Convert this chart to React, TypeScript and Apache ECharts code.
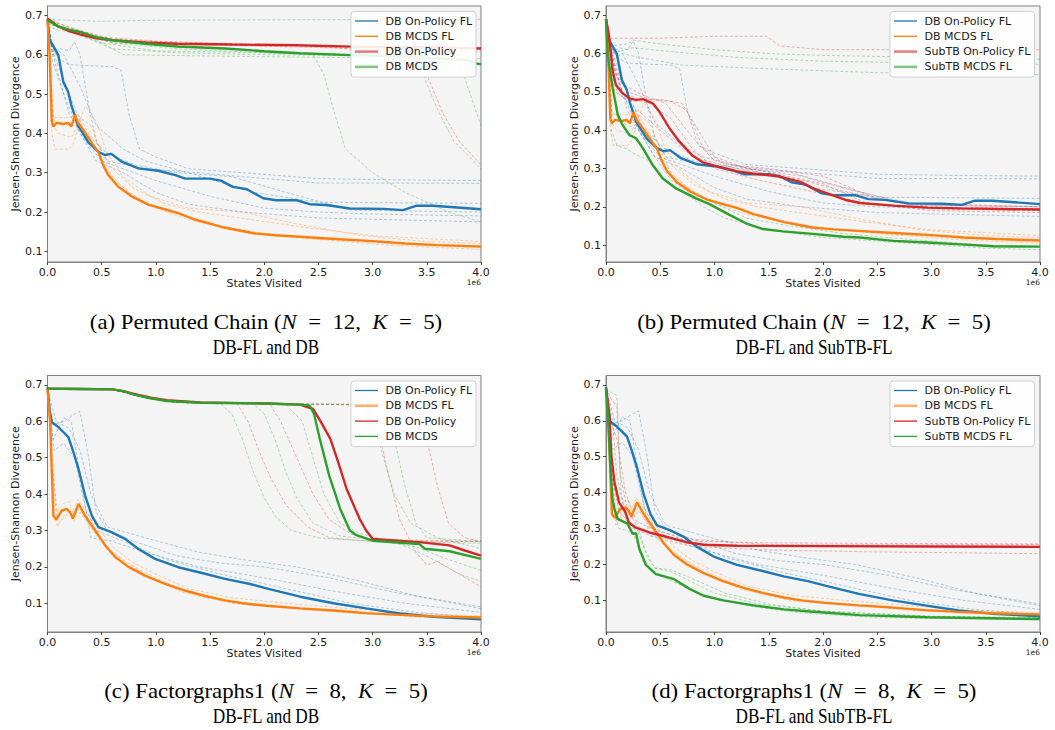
import React, { useEffect, useRef } from "react";
import * as echarts from "echarts";

// ---------- colours ----------
const BLUE = "#1f77b4";
const ORANGE = "#ff7f0e";
const GREEN = "#2ca02c";
const RED = "#d62728";

// ---------- ticks ----------
const X_TICKS = [0, 0.5, 1, 1.5, 2, 2.5, 3, 3.5, 4];
const Y_TICKS = [0.1, 0.2, 0.3, 0.4, 0.5, 0.6, 0.7];

// ---------- Permuted Chain (x in 1e6 states) ----------
const chainDbOnFlMean = [[0,0.69],[0.02,0.635],[0.04,0.629],[0.1,0.599],[0.146,0.531],[0.19,0.506],[0.22,0.472],[0.28,0.421],[0.376,0.378],[0.469,0.353],[0.53,0.345],[0.59,0.348],[0.685,0.328],[0.838,0.311],[1.02,0.305],[1.18,0.294],[1.27,0.285],[1.5,0.285],[1.6,0.28],[1.71,0.264],[1.84,0.258],[1.99,0.235],[2.11,0.23],[2.3,0.23],[2.42,0.22],[2.57,0.218],[2.79,0.209],[3.1,0.208],[3.28,0.205],[3.4,0.216],[3.56,0.216],[4.0,0.207]];
const chainDbMcdsFlMean = [[0,0.69],[0.02,0.6],[0.04,0.43],[0.054,0.418],[0.085,0.427],[0.146,0.424],[0.19,0.427],[0.22,0.418],[0.254,0.447],[0.28,0.428],[0.346,0.402],[0.408,0.376],[0.469,0.353],[0.515,0.319],[0.56,0.294],[0.65,0.265],[0.777,0.24],[0.93,0.219],[1.146,0.202],[1.2,0.198],[1.36,0.181],[1.64,0.16],[1.9,0.146],[2.1,0.141],[2.4,0.136],[2.7,0.131],[3.0,0.126],[3.3,0.12],[3.6,0.116],[4.0,0.112]];
const chainDbOnMean = [[0,0.692],[0.1,0.672],[0.2,0.66],[0.3,0.652],[0.45,0.642],[0.6,0.637],[0.9,0.631],[1.2,0.628],[1.7,0.626],[2.3,0.624],[2.9,0.62],[3.5,0.619],[4.0,0.616]];
const chainDbMcdsMean = [[0,0.688],[0.1,0.672],[0.2,0.664],[0.3,0.658],[0.45,0.645],[0.6,0.637],[0.9,0.628],[1.2,0.621],[1.64,0.616],[2.0,0.609],[2.33,0.604],[2.79,0.599],[3.2,0.596],[3.56,0.592],[3.9,0.585],[3.95,0.578],[4.0,0.576]];
const chainSubOnFlMean = [[0,0.69],[0.02,0.66],[0.03,0.64],[0.062,0.553],[0.092,0.518],[0.154,0.496],[0.216,0.483],[0.277,0.479],[0.339,0.481],[0.431,0.47],[0.493,0.448],[0.585,0.405],[0.677,0.37],[0.8,0.333],[0.892,0.316],[1.015,0.306],[1.2,0.293],[1.35,0.287],[1.6,0.279],[1.79,0.265],[1.91,0.248],[2.04,0.235],[2.22,0.217],[2.34,0.21],[2.65,0.203],[2.96,0.198],[3.27,0.196],[4.0,0.193]];
const chainSubMcdsFlMean = [[0,0.69],[0.015,0.6],[0.03,0.57],[0.062,0.509],[0.108,0.44],[0.154,0.413],[0.216,0.387],[0.277,0.379],[0.339,0.353],[0.431,0.309],[0.523,0.274],[0.646,0.248],[0.83,0.222],[0.954,0.207],[1.138,0.179],[1.29,0.157],[1.446,0.142],[1.63,0.136],[1.88,0.13],[2.19,0.122],[2.34,0.12],[2.65,0.111],[2.96,0.107],[3.27,0.102],[3.57,0.097],[4.0,0.096]];

const chainDbOnFlSeeds = [
  [[0,0.69],[0.04,0.62],[0.1,0.59],[0.2,0.575],[0.4,0.572],[0.6,0.57],[0.68,0.56],[0.75,0.45],[0.85,0.36],[1.0,0.34],[1.3,0.31],[1.8,0.3],[2.5,0.285],[3.2,0.282],[4.0,0.28]],
  [[0,0.69],[0.05,0.6],[0.12,0.615],[0.2,0.61],[0.25,0.633],[0.3,0.6],[0.38,0.47],[0.45,0.38],[0.55,0.33],[0.9,0.31],[1.4,0.3],[1.8,0.29],[2.5,0.274],[4.0,0.273]],
  [[0,0.69],[0.05,0.6],[0.1,0.55],[0.2,0.45],[0.35,0.38],[0.5,0.33],[0.8,0.3],[1.0,0.28],[1.5,0.24],[2.0,0.21],[2.5,0.2],[3.0,0.195],[4.0,0.19]],
  [[0,0.69],[0.05,0.62],[0.15,0.6],[0.3,0.52],[0.45,0.42],[0.7,0.36],[0.9,0.33],[1.3,0.3],[1.9,0.25],[2.5,0.225],[4.0,0.222]],
  [[0,0.69],[0.05,0.58],[0.15,0.5],[0.3,0.4],[0.45,0.33],[0.7,0.3],[1.0,0.25],[1.3,0.22],[1.8,0.2],[2.5,0.185],[4.0,0.175]],
  [[0,0.69],[0.06,0.6],[0.2,0.5],[0.35,0.4],[0.55,0.35],[0.8,0.32],[1.2,0.3],[1.7,0.29],[2.2,0.25],[2.8,0.205],[4.0,0.2]],
];
const chainDbMcdsFlSeeds = [
  [[0,0.69],[0.04,0.4],[0.07,0.36],[0.2,0.36],[0.25,0.38],[0.3,0.44],[0.4,0.42],[0.5,0.35],[0.6,0.29],[0.75,0.25],[1.0,0.21],[1.3,0.18],[1.8,0.15],[2.5,0.13],[3.2,0.115],[4.0,0.105]],
  [[0,0.69],[0.05,0.42],[0.1,0.4],[0.22,0.39],[0.28,0.42],[0.35,0.47],[0.45,0.43],[0.55,0.35],[0.7,0.29],[0.95,0.24],[1.3,0.21],[1.8,0.2],[2.3,0.17],[2.9,0.14],[3.5,0.125],[4.0,0.12]],
  [[0,0.69],[0.05,0.44],[0.2,0.44],[0.28,0.45],[0.38,0.4],[0.5,0.33],[0.62,0.28],[0.85,0.23],[1.15,0.2],[1.5,0.17],[2.0,0.145],[2.6,0.13],[3.2,0.12],[4.0,0.115]],
  [[0,0.69],[0.06,0.43],[0.2,0.42],[0.3,0.42],[0.45,0.38],[0.6,0.31],[0.8,0.26],[1.1,0.22],[1.4,0.2],[1.9,0.18],[2.4,0.16],[3.0,0.14],[4.0,0.125]],
];
const chainDbOnSeeds = [
  [[0,0.69],[0.2,0.67],[0.5,0.645],[1.0,0.635],[2.0,0.625],[3.0,0.62],[4.0,0.618]],
  [[0,0.69],[0.25,0.665],[0.6,0.64],[1.2,0.63],[2.5,0.622],[3.35,0.6],[3.5,0.55],[3.65,0.45],[3.8,0.38],[4.0,0.32]],
  [[0,0.68],[0.2,0.66],[0.6,0.63],[1.5,0.625],[3.0,0.615],[4.0,0.61]],
];
const chainDbMcdsSeeds = [
  [[0,0.69],[0.5,0.685],[1.0,0.688],[4.0,0.69]],
  [[0,0.68],[0.3,0.655],[0.6,0.63],[1.2,0.615],[2.0,0.605],[2.45,0.6],[2.55,0.55],[2.65,0.45],[2.75,0.36],[3.0,0.3],[3.3,0.25],[3.7,0.2],[4.0,0.175]],
  [[0,0.68],[0.3,0.65],[0.6,0.615],[1.2,0.605],[2.0,0.6],[3.0,0.598],[3.3,0.597],[3.45,0.56],[3.6,0.46],[3.75,0.38],[4.0,0.31]],
  [[0,0.685],[0.2,0.66],[0.5,0.63],[1.0,0.61],[2.0,0.605],[3.0,0.6],[3.75,0.6],[3.85,0.54],[4.0,0.42]],
  [[0,0.67],[0.4,0.645],[0.7,0.6],[2.0,0.595],[4.0,0.59]],
];
const chainSubOnFlSeeds = [
  [[0,0.69],[0.03,0.64],[0.5,0.64],[1.0,0.645],[1.48,0.645],[1.6,0.62],[2.0,0.61],[4.0,0.61]],
  [[0,0.69],[0.08,0.55],[0.2,0.5],[0.4,0.48],[0.6,0.475],[0.75,0.45],[0.9,0.35],[1.1,0.31],[1.5,0.3],[2.0,0.28],[2.5,0.22],[3.0,0.2],[4.0,0.195]],
  [[0,0.69],[0.1,0.5],[0.3,0.45],[0.5,0.4],[0.8,0.33],[1.2,0.3],[1.8,0.27],[2.2,0.24],[2.8,0.205],[4.0,0.2]],
  [[0,0.69],[0.05,0.6],[0.15,0.52],[0.35,0.49],[0.55,0.47],[0.8,0.38],[1.0,0.32],[1.5,0.29],[2.0,0.26],[2.4,0.21],[3.0,0.19],[4.0,0.185]],
  [[0,0.69],[0.06,0.58],[0.15,0.5],[0.3,0.48],[0.5,0.48],[0.7,0.47],[0.85,0.4],[1.0,0.33],[1.3,0.3],[1.8,0.28],[2.3,0.24],[2.8,0.21],[4.0,0.2]],
  [[0,0.69],[0.08,0.5],[0.2,0.48],[0.4,0.47],[0.6,0.43],[0.8,0.35],[1.0,0.3],[1.4,0.27],[1.9,0.24],[2.4,0.21],[3.0,0.195],[4.0,0.19]],
];
const chainSubMcdsFlSeeds = [
  [[0,0.69],[0.05,0.62],[0.2,0.625],[0.25,0.635],[0.5,0.625],[1.0,0.61],[1.5,0.6],[2.0,0.595],[3.0,0.59],[4.0,0.585]],
  [[0,0.69],[0.05,0.6],[0.25,0.615],[0.6,0.605],[1.2,0.59],[2.0,0.58],[3.0,0.575],[4.0,0.572]],
  [[0,0.69],[0.05,0.58],[0.15,0.6],[0.3,0.59],[0.7,0.57],[1.5,0.56],[2.5,0.55],[4.0,0.545]],
  [[0,0.69],[0.05,0.4],[0.1,0.36],[0.2,0.35],[0.25,0.34],[0.4,0.32],[0.5,0.28],[0.7,0.24],[0.9,0.2],[1.1,0.17],[1.5,0.14],[2.0,0.12],[2.8,0.105],[3.5,0.092],[4.0,0.088]],
  [[0,0.69],[0.05,0.45],[0.15,0.42],[0.3,0.4],[0.45,0.33],[0.6,0.27],[0.8,0.23],[1.0,0.21],[1.3,0.17],[1.7,0.15],[2.2,0.13],[2.8,0.115],[3.5,0.1],[4.0,0.097]],
];

// ---------- Factorgraphs1 ----------
const fgDbOnFlMean = [[0,0.694],[0.02,0.63],[0.04,0.598],[0.1,0.584],[0.148,0.57],[0.194,0.556],[0.24,0.515],[0.286,0.469],[0.347,0.396],[0.409,0.341],[0.47,0.309],[0.594,0.295],[0.716,0.277],[0.839,0.249],[0.993,0.222],[1.207,0.199],[1.453,0.181],[1.638,0.167],[1.87,0.153],[2.02,0.141],[2.33,0.118],[2.64,0.1],[2.94,0.086],[3.25,0.072],[3.56,0.063],[4.0,0.056]];
const fgDbMcdsFlMean = [[0,0.69],[0.025,0.598],[0.04,0.46],[0.055,0.34],[0.08,0.33],[0.133,0.355],[0.179,0.359],[0.209,0.35],[0.234,0.333],[0.286,0.373],[0.347,0.341],[0.44,0.3],[0.532,0.259],[0.624,0.227],[0.747,0.2],[0.9,0.176],[1.085,0.153],[1.269,0.135],[1.453,0.12],[1.638,0.108],[1.8,0.1],[2.02,0.093],[2.33,0.086],[2.64,0.08],[2.94,0.073],[3.25,0.068],[3.56,0.064],[4.0,0.061]];
const fgDbOnMean = [[0,0.69],[0.3,0.689],[0.6,0.688],[0.7,0.683],[0.79,0.676],[0.95,0.665],[1.1,0.658],[1.41,0.652],[2.02,0.649],[2.33,0.646],[2.39,0.64],[2.45,0.634],[2.52,0.6],[2.61,0.552],[2.68,0.49],[2.76,0.414],[2.88,0.332],[2.94,0.3],[3.0,0.277],[3.43,0.268],[3.71,0.259],[3.85,0.245],[4.0,0.231]];
const fgDbMcdsMean = [[0,0.69],[0.3,0.689],[0.6,0.688],[0.7,0.683],[0.79,0.674],[0.95,0.663],[1.1,0.656],[1.41,0.651],[2.02,0.649],[2.33,0.646],[2.42,0.643],[2.46,0.62],[2.51,0.555],[2.6,0.45],[2.7,0.36],[2.79,0.3],[2.85,0.287],[3.0,0.272],[3.43,0.263],[3.48,0.25],[3.71,0.243],[4.0,0.222]];
const fgSubOnFlMean = [[0,0.69],[0.03,0.62],[0.05,0.5],[0.078,0.429],[0.12,0.373],[0.18,0.345],[0.21,0.317],[0.27,0.303],[0.4,0.289],[0.52,0.28],[0.74,0.262],[0.9,0.255],[1.2,0.252],[2.0,0.251],[3.0,0.25],[4.0,0.249]];
const fgSubMcdsFlMean = [[0,0.69],[0.02,0.6],[0.04,0.47],[0.06,0.38],[0.078,0.355],[0.108,0.327],[0.2,0.313],[0.246,0.285],[0.277,0.287],[0.308,0.243],[0.37,0.198],[0.46,0.173],[0.62,0.16],[0.77,0.132],[0.9,0.113],[1.08,0.1],[1.36,0.086],[1.64,0.075],[1.88,0.069],[2.34,0.059],[2.96,0.053],[4.0,0.048]];

const fgDbOnFlSeeds = [
  [[0,0.69],[0.05,0.59],[0.15,0.6],[0.25,0.62],[0.3,0.627],[0.38,0.5],[0.45,0.35],[0.55,0.3],[0.8,0.27],[1.2,0.23],[1.6,0.21],[2.0,0.2],[2.6,0.17],[3.2,0.13],[4.0,0.09]],
  [[0,0.69],[0.05,0.55],[0.15,0.61],[0.22,0.6],[0.33,0.4],[0.4,0.28],[0.6,0.27],[0.9,0.24],[1.4,0.2],[2.0,0.17],[2.7,0.13],[3.3,0.1],[4.0,0.075]],
  [[0,0.69],[0.06,0.52],[0.15,0.54],[0.25,0.5],[0.35,0.36],[0.45,0.3],[0.7,0.27],[1.1,0.22],[1.6,0.18],[2.2,0.14],[2.8,0.1],[3.4,0.075],[4.0,0.06]],
  [[0,0.69],[0.08,0.6],[0.2,0.58],[0.3,0.52],[0.4,0.4],[0.55,0.31],[0.9,0.28],[1.4,0.24],[1.8,0.22],[2.3,0.2],[2.9,0.16],[3.4,0.12],[4.0,0.085]],
];
const fgDbMcdsFlSeeds = [
  [[0,0.69],[0.04,0.5],[0.09,0.31],[0.15,0.34],[0.21,0.355],[0.24,0.33],[0.28,0.36],[0.35,0.33],[0.45,0.29],[0.6,0.24],[0.8,0.2],[1.0,0.17],[1.3,0.13],[1.7,0.105],[2.2,0.09],[2.8,0.075],[3.4,0.063],[4.0,0.058]],
  [[0,0.69],[0.04,0.5],[0.08,0.35],[0.15,0.375],[0.2,0.38],[0.23,0.35],[0.28,0.385],[0.36,0.35],[0.48,0.3],[0.62,0.25],[0.8,0.21],[1.0,0.18],[1.3,0.14],[1.7,0.115],[2.2,0.1],[2.8,0.085],[3.4,0.072],[4.0,0.065]],
  [[0,0.69],[0.04,0.5],[0.1,0.32],[0.2,0.35],[0.24,0.325],[0.3,0.35],[0.42,0.3],[0.56,0.25],[0.73,0.21],[0.95,0.17],[1.25,0.13],[1.7,0.1],[2.3,0.085],[3.0,0.07],[4.0,0.062]],
];
const fgDbOnSeeds = [
  [[0,0.69],[0.6,0.688],[0.9,0.665],[1.2,0.652],[1.75,0.648],[1.85,0.6],[1.95,0.52],[2.05,0.45],[2.2,0.37],[2.4,0.31],[2.6,0.28],[3.0,0.27],[4.0,0.27]],
  [[0,0.69],[0.6,0.688],[0.9,0.665],[1.2,0.652],[2.05,0.648],[2.15,0.6],[2.3,0.5],[2.45,0.4],[2.6,0.33],[2.8,0.29],[3.0,0.275],[4.0,0.27]],
  [[0,0.69],[0.6,0.688],[0.9,0.665],[1.2,0.652],[2.95,0.645],[3.05,0.58],[3.15,0.45],[3.25,0.33],[3.4,0.24],[3.5,0.205],[3.6,0.215],[3.8,0.18],[4.0,0.145]],
  [[0,0.69],[0.6,0.688],[0.9,0.665],[1.2,0.652],[3.4,0.645],[3.5,0.55],[3.6,0.42],[3.7,0.32],[3.85,0.28],[4.0,0.27]],
];
const fgDbMcdsSeeds = [
  [[0,0.69],[0.6,0.688],[0.9,0.665],[1.2,0.652],[1.6,0.648],[1.7,0.62],[1.8,0.55],[1.9,0.46],[2.0,0.39],[2.1,0.34],[2.25,0.3],[2.5,0.28],[3.0,0.27],[4.0,0.265]],
  [[0,0.69],[0.6,0.688],[0.9,0.665],[1.2,0.652],[1.9,0.648],[2.0,0.62],[2.1,0.55],[2.2,0.46],[2.3,0.39],[2.45,0.32],[2.7,0.285],[3.0,0.275],[3.4,0.255],[3.7,0.22],[4.0,0.19]],
  [[0,0.69],[0.6,0.688],[0.9,0.665],[1.2,0.652],[2.2,0.646],[2.35,0.6],[2.45,0.5],[2.55,0.4],[2.7,0.32],[2.9,0.29],[3.2,0.27],[3.5,0.23],[3.8,0.18],[4.0,0.16]],
  [[0,0.69],[0.6,0.688],[0.9,0.665],[1.2,0.652],[2.9,0.645],[3.0,0.6],[3.1,0.5],[3.2,0.4],[3.35,0.32],[3.6,0.28],[4.0,0.25]],
  [[0,0.69],[0.6,0.688],[0.9,0.665],[1.2,0.652],[3.1,0.645],[3.2,0.55],[3.3,0.42],[3.4,0.32],[3.5,0.28],[4.0,0.27]],
];
const fgSubOnFlSeeds = [
  [[0,0.69],[0.05,0.66],[0.1,0.64],[0.13,0.45],[0.2,0.35],[0.3,0.3],[0.5,0.28],[0.8,0.265],[1.5,0.26],[4.0,0.257]],
  [[0,0.69],[0.05,0.45],[0.12,0.35],[0.25,0.3],[0.5,0.27],[0.8,0.25],[1.5,0.24],[2.5,0.235],[4.0,0.23]],
  [[0,0.69],[0.04,0.6],[0.1,0.55],[0.18,0.4],[0.28,0.32],[0.5,0.29],[0.8,0.27],[1.5,0.255],[4.0,0.255]],
];
const fgSubMcdsFlSeeds = [
  [[0,0.69],[0.04,0.68],[0.1,0.67],[0.14,0.4],[0.2,0.32],[0.3,0.3],[0.38,0.22],[0.45,0.19],[0.6,0.185],[0.8,0.16],[1.1,0.12],[1.5,0.09],[2.0,0.07],[3.0,0.055],[4.0,0.05]],
  [[0,0.69],[0.06,0.36],[0.12,0.3],[0.25,0.29],[0.35,0.2],[0.5,0.17],[0.7,0.14],[0.95,0.11],[1.3,0.085],[1.8,0.065],[2.5,0.052],[4.0,0.046]],
  [[0,0.69],[0.06,0.6],[0.1,0.45],[0.18,0.33],[0.28,0.3],[0.36,0.24],[0.45,0.19],[0.6,0.18],[0.8,0.15],[1.0,0.12],[1.4,0.09],[2.0,0.07],[3.0,0.056],[4.0,0.052]],
];

// ---------- texts ----------
const CAPTIONS = [
  ["(a) Permuted Chain ({i|N}\u2002=\u200212,\u2002{i|K}\u2002=\u20025)", "DB-FL and DB"],
  ["(b) Permuted Chain ({i|N}\u2002=\u200212,\u2002{i|K}\u2002=\u20025)", "DB-FL and SubTB-FL"],
  ["(c) Factorgraphs1 ({i|N}\u2002=\u20028,\u2002{i|K}\u2002=\u20025)", "DB-FL and DB"],
  ["(d) Factorgraphs1 ({i|N}\u2002=\u20028,\u2002{i|K}\u2002=\u20025)", "DB-FL and SubTB-FL"],
];
const LEGEND_DB = ["DB On-Policy FL", "DB MCDS FL", "DB On-Policy", "DB MCDS"];
const LEGEND_SUB = ["DB On-Policy FL", "DB MCDS FL", "SubTB On-Policy FL", "SubTB MCDS FL"];

// ---------- layout ----------
const PANELS = [
  { left: 47.5, top: 6, width: 433.5, height: 256, ymin: 0.073, ymax: 0.724 },
  { left: 606, top: 6, width: 434, height: 256, ymin: 0.056, ymax: 0.724 },
  { left: 47.5, top: 375.5, width: 433.5, height: 256.5, ymin: 0.021, ymax: 0.726 },
  { left: 606, top: 375.5, width: 434, height: 256.5, ymin: 0.012, ymax: 0.726 },
];
const FONT = "DejaVu Sans";
const TXT = "#1a1a1a";
const FS = 11;

function meanLine(data: number[][], color: string, gi: number) {
  return {
    type: "line", data, xAxisIndex: gi, yAxisIndex: gi, symbol: "none", silent: true, z: 3,
    lineStyle: { color, width: 2.4 },
  };
}
function seedLines(seeds: number[][][], color: string, gi: number) {
  return seeds.map((d) => ({
    type: "line", data: d, xAxisIndex: gi, yAxisIndex: gi, symbol: "none", silent: true, z: 2,
    lineStyle: { color, width: 0.9, type: [3, 2], opacity: 0.4 },
  }));
}

function legendItems(x: number, y: number, w: number, labels: string[], thick: boolean[]) {
  const colors = [BLUE, ORANGE, RED, GREEN];
  const out: any[] = [
    { type: "rect", z: 100, shape: { x, y, width: w, height: 65.5, r: 3 }, style: { fill: "rgba(255,255,255,0.9)", stroke: "#d0d0d0", lineWidth: 1 } },
  ];
  labels.forEach((lab, i) => {
    const cy = y + 9.5 + i * 15.3;
    out.push({
      type: "line", z: 101, shape: { x1: x + 4, y1: cy, x2: x + 27, y2: cy },
      style: { stroke: colors[i], lineWidth: thick[i] ? 2.6 : 1.3, opacity: thick[i] ? 0.6 : 1 },
    });
    out.push({
      type: "text", z: 101, x: x + 34.5, y: cy,
      style: { text: lab, fontSize: FS, fontFamily: FONT, fill: TXT, verticalAlign: "middle", align: "left" },
    });
  });
  return out;
}

export default function App() {
  const ref = useRef<HTMLDivElement>(null);
  useEffect(() => {
    document.body.style.margin = "0";
    const chart = echarts.init(ref.current!, null, { renderer: "svg" });

    const grid = PANELS.map((p) => ({
      left: p.left, top: p.top, width: p.width, height: p.height,
      show: true, backgroundColor: "#f4f4f4", borderColor: "#808080", borderWidth: 1,
    }));
    const xAxis = PANELS.map((p, i) => ({
      type: "value", gridIndex: i, min: 0, max: 4, interval: 0.5,
      name: "States Visited", nameLocation: "middle", nameGap: 14.5,
      nameTextStyle: { fontSize: FS, fontFamily: FONT, color: TXT },
      splitLine: { show: false },
      axisLine: { show: true, lineStyle: { color: "#808080" } },
      axisTick: { show: true, length: 3, lineStyle: { color: "#444" }, customValues: X_TICKS },
      axisLabel: { fontSize: FS, fontFamily: FONT, color: TXT, margin: 4.5, formatter: (v: number) => v.toFixed(1), customValues: X_TICKS },
    }));
    const yAxis = PANELS.map((p, i) => ({
      type: "value", gridIndex: i, min: p.ymin, max: p.ymax,
      name: "Jensen-Shannon Divergence", nameLocation: "middle", nameGap: 26, nameRotate: 90,
      nameTextStyle: { fontSize: FS, fontFamily: FONT, color: TXT },
      splitLine: { show: false },
      axisLine: { show: true, lineStyle: { color: "#808080" } },
      axisTick: { show: true, length: 3, lineStyle: { color: "#444" }, customValues: Y_TICKS },
      axisLabel: { fontSize: FS, fontFamily: FONT, color: TXT, margin: 5, formatter: (v: number) => v.toFixed(1), customValues: Y_TICKS },
    }));

    const series: any[] = [
      // (a)
      ...seedLines(chainDbOnFlSeeds, BLUE, 0), ...seedLines(chainDbMcdsFlSeeds, ORANGE, 0),
      ...seedLines(chainDbOnSeeds, RED, 0), ...seedLines(chainDbMcdsSeeds, GREEN, 0),
      meanLine(chainDbOnFlMean, BLUE, 0), meanLine(chainDbMcdsFlMean, ORANGE, 0),
      meanLine(chainDbOnMean, RED, 0), meanLine(chainDbMcdsMean, GREEN, 0),
      // (b)
      ...seedLines(chainDbOnFlSeeds, BLUE, 1), ...seedLines(chainDbMcdsFlSeeds, ORANGE, 1),
      ...seedLines(chainSubOnFlSeeds, RED, 1), ...seedLines(chainSubMcdsFlSeeds, GREEN, 1),
      meanLine(chainDbOnFlMean, BLUE, 1), meanLine(chainDbMcdsFlMean, ORANGE, 1),
      meanLine(chainSubOnFlMean, RED, 1), meanLine(chainSubMcdsFlMean, GREEN, 1),
      // (c)
      ...seedLines(fgDbOnFlSeeds, BLUE, 2), ...seedLines(fgDbMcdsFlSeeds, ORANGE, 2),
      ...seedLines(fgDbOnSeeds, RED, 2), ...seedLines(fgDbMcdsSeeds, GREEN, 2),
      meanLine(fgDbOnFlMean, BLUE, 2), meanLine(fgDbMcdsFlMean, ORANGE, 2),
      meanLine(fgDbOnMean, RED, 2), meanLine(fgDbMcdsMean, GREEN, 2),
      // (d)
      ...seedLines(fgDbOnFlSeeds, BLUE, 3), ...seedLines(fgDbMcdsFlSeeds, ORANGE, 3),
      ...seedLines(fgSubOnFlSeeds, RED, 3), ...seedLines(fgSubMcdsFlSeeds, GREEN, 3),
      meanLine(fgDbOnFlMean, BLUE, 3), meanLine(fgDbMcdsFlMean, ORANGE, 3),
      meanLine(fgSubOnFlMean, RED, 3), meanLine(fgSubMcdsFlMean, GREEN, 3),
    ];

    const graphic: any[] = [];
    graphic.push(...legendItems(351, 11.5, 125, LEGEND_DB, [false, false, true, true]));
    graphic.push(...legendItems(890, 11.5, 144.5, LEGEND_SUB, [false, false, true, true]));
    graphic.push(...legendItems(351, 381, 125, LEGEND_DB, [false, true, false, false]));
    graphic.push(...legendItems(890, 381, 144.5, LEGEND_SUB, [false, true, false, false]));
    PANELS.forEach((p) => {
      graphic.push({
        type: "text", x: p.left + p.width, y: p.top + p.height + 20.5,
        style: { text: "1e6", fontSize: 7.5, fontFamily: FONT, fill: TXT, align: "right", verticalAlign: "middle" },
      });
    });
    const capPos = [[266, 322], [814, 322], [266, 691], [814, 691]];
    CAPTIONS.forEach((c, i) => {
      const [cx, cy] = capPos[i];
      graphic.push({
        type: "text", x: cx, y: cy, scaleX: 1.14,
        style: {
          text: c[0], fontSize: 20, fontFamily: "Liberation Serif", fill: "#000", align: "center", verticalAlign: "middle",
          rich: { i: { fontSize: 20, fontFamily: "Liberation Serif", fontStyle: "italic", fill: "#000" } },
        },
      });
      graphic.push({
        type: "text", x: cx, y: cy + 25, scaleX: 0.86,
        style: { text: c[1], fontSize: 20, fontFamily: "Liberation Serif", fill: "#000", align: "center", verticalAlign: "middle" },
      });
    });

    chart.setOption({ animation: false, backgroundColor: "#ffffff", grid, xAxis, yAxis, series, graphic });
    return () => chart.dispose();
  }, []);
  return <div ref={ref} style={{ width: 1055, height: 730 }} />;
}
